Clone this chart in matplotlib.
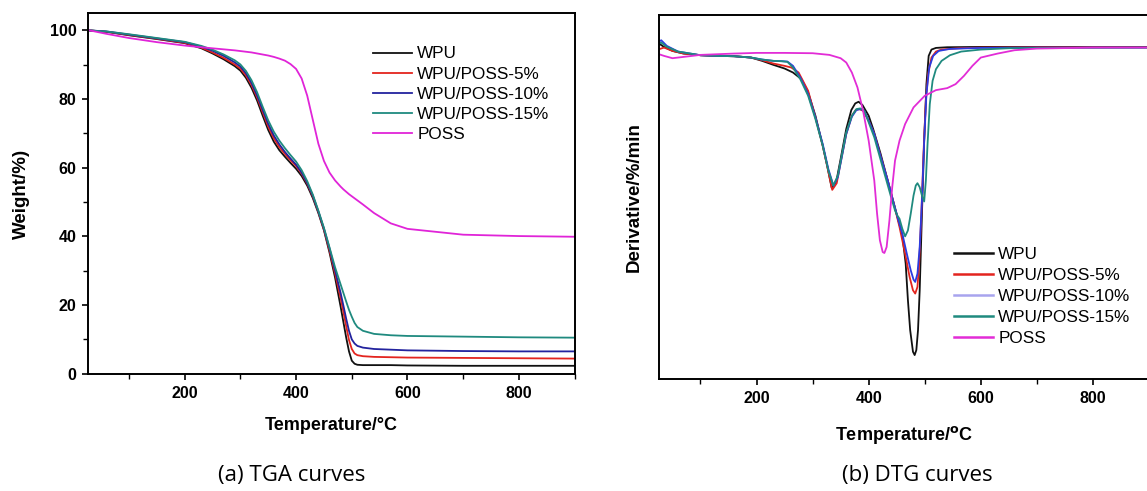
import matplotlib
matplotlib.use('Agg')
import matplotlib.pyplot as plt
from matplotlib.lines import Line2D
from matplotlib.ticker import MultipleLocator

plt.rcParams['font.family'] = ['Liberation Sans', 'DejaVu Sans']

series_names = ['WPU', 'WPU/POSS-5%', 'WPU/POSS-10%', 'WPU/POSS-15%', 'POSS']

# TGA: residual weight (%) vs temperature (°C)
tga_temp = [30, 60, 100, 150, 200, 230, 250, 270, 290, 300, 310, 320, 330, 340, 350,
            360, 370, 380, 390, 400, 410, 420, 430, 440, 450, 460, 470, 480, 485, 490,
            495, 500, 505, 510, 520, 540, 570, 600, 700, 800, 900]
tga_wpu = [100, 99.6, 98.6, 97.5, 96.3, 94.8, 93.3, 91.6, 89.6, 88.3, 86.2, 83.3, 79.6, 75.2, 71.0,
           67.6, 65.1, 63.2, 61.4, 59.7, 57.6, 54.8, 51.2, 46.8, 41.8, 35.3, 28.0, 19.5, 15.0, 10.5,
           6.5, 3.8, 2.9, 2.6, 2.5, 2.5, 2.5, 2.4, 2.3, 2.3, 2.3]
tga_poss5 = [100, 99.6, 98.7, 97.6, 96.4, 95.0, 93.6, 92.0, 90.1, 88.9, 86.9, 84.1, 80.5, 76.2, 72.0,
             68.6, 66.0, 64.0, 62.2, 60.5, 58.3, 55.4, 51.7, 47.1, 42.0, 35.9, 29.2, 22.0, 18.0, 13.8,
             9.8, 7.2, 5.9, 5.4, 5.1, 4.9, 4.8, 4.7, 4.6, 4.5, 4.4]
tga_poss10 = [100, 99.7, 98.8, 97.7, 96.6, 95.3, 94.1, 92.6, 90.7, 89.5, 87.5, 84.7, 81.1, 76.9, 72.8,
              69.4, 66.8, 64.6, 62.7, 60.9, 58.6, 55.6, 51.9, 47.3, 42.3, 36.5, 30.1, 23.5, 19.8, 16.0,
              12.5, 10.0, 8.8, 8.1, 7.6, 7.2, 7.0, 6.8, 6.6, 6.5, 6.5]
tga_poss15 = [100, 99.7, 98.9, 97.8, 96.7, 95.5, 94.4, 93.0, 91.3, 90.1, 88.2, 85.5, 82.0, 77.8, 73.8,
              70.5, 67.9, 65.7, 63.7, 61.8, 59.3, 56.1, 52.2, 47.5, 42.5, 36.8, 31.0, 26.0, 23.5, 21.0,
              18.6, 16.6, 14.8, 13.6, 12.5, 11.6, 11.2, 11.0, 10.8, 10.6, 10.5]
tga_poss = [100, 99.0, 97.8, 96.6, 95.6, 95.1, 94.8, 94.5, 94.2, 94.0, 93.8, 93.6, 93.3, 93.0, 92.7,
            92.3, 91.8, 91.2, 90.2, 88.8, 86.0, 81.0, 74.0, 67.0, 62.0, 58.6, 56.3, 54.5, 53.7, 53.0,
            52.3, 51.7, 51.1, 50.5, 49.3, 46.8, 43.8, 42.2, 40.5, 40.1, 39.9]

# DTG: derivative weight (%/min) vs temperature (°C)
dtg_wpu_t = [26, 35, 50, 70, 100, 130, 160, 190, 210, 230, 250, 265, 280, 292, 305, 318, 326, 334,
             342, 350, 360, 369, 376, 382, 389, 400, 408, 421, 434, 443, 453, 460, 466, 470, 474,
             479, 482, 485, 488, 491, 495, 499, 503, 507, 512, 520, 540, 600, 700, 800, 900]
dtg_wpu = [0.12, 0.02, -0.10, -0.18, -0.23, -0.25, -0.26, -0.30, -0.40, -0.52, -0.63, -0.75, -0.95,
           -1.35, -2.05, -2.95, -3.55, -4.22, -4.05, -3.35, -2.45, -1.88, -1.68, -1.63, -1.73, -2.05,
           -2.45, -3.18, -4.00, -4.58, -5.20, -5.65, -6.50, -7.60, -8.50, -9.15, -9.25, -9.10, -8.50,
           -7.30, -5.00, -2.80, -1.10, -0.25, -0.06, -0.01, 0.01, 0.02, 0.02, 0.02, 0.02]
dtg_poss5_t = [26, 35, 50, 70, 100, 130, 160, 190, 210, 230, 250, 262, 275, 292, 305, 318, 327, 335,
               343, 350, 360, 370, 377, 383, 390, 400, 410, 420, 434, 445, 455, 465, 473, 479, 483,
               487, 490, 494, 498, 502, 506, 512, 520, 530, 560, 600, 700, 900]
dtg_poss5 = [-0.05, 0.0, -0.10, -0.18, -0.23, -0.25, -0.26, -0.30, -0.38, -0.48, -0.55, -0.60, -0.75,
             -1.30, -2.10, -2.95, -3.65, -4.28, -4.08, -3.45, -2.60, -2.05, -1.88, -1.85, -1.90, -2.20,
             -2.60, -3.20, -4.00, -4.70, -5.40, -6.20, -6.90, -7.30, -7.40, -7.20, -6.50, -5.00, -3.10,
             -1.60, -0.80, -0.30, -0.12, -0.06, -0.02, 0.0, 0.01, 0.01]
dtg_poss10_t = [26, 30, 40, 60, 100, 130, 160, 190, 210, 230, 245, 255, 265, 278, 292, 305, 318, 328,
                337, 345, 352, 360, 370, 378, 385, 392, 400, 410, 420, 434, 445, 453, 460, 468, 475,
                480, 483, 487, 491, 495, 499, 503, 508, 515, 525, 545, 600, 700, 900]
dtg_poss10 = [0.18, 0.22, 0.05, -0.12, -0.23, -0.25, -0.26, -0.30, -0.36, -0.40, -0.41, -0.42, -0.55,
              -0.90, -1.40, -2.10, -2.90, -3.65, -4.15, -3.90, -3.30, -2.60, -2.08, -1.88, -1.85, -1.90,
              -2.20, -2.60, -3.20, -4.00, -4.70, -5.20, -5.60, -6.20, -6.70, -6.98, -7.05, -6.80, -6.00,
              -4.60, -2.80, -1.40, -0.60, -0.25, -0.10, -0.04, -0.01, 0.0, 0.0]
dtg_poss15_t = [26, 30, 40, 60, 100, 130, 160, 190, 210, 230, 245, 255, 265, 278, 292, 305, 318, 328,
                337, 345, 352, 360, 370, 378, 385, 392, 400, 410, 420, 430, 440, 447, 451, 455, 460,
                465, 470, 475, 480, 484, 487, 491, 495, 499, 502, 505, 509, 514, 520, 530, 545, 565,
                600, 650, 700, 900]
dtg_poss15 = [0.12, 0.15, 0.02, -0.12, -0.23, -0.25, -0.26, -0.30, -0.36, -0.40, -0.41, -0.43, -0.60,
              -0.95, -1.45, -2.15, -2.95, -3.70, -4.15, -3.85, -3.25, -2.55, -2.05, -1.85, -1.83, -1.90,
              -2.25, -2.70, -3.30, -3.90, -4.50, -4.90, -5.05, -5.15, -5.45, -5.68, -5.50, -5.00, -4.45,
              -4.15, -4.08, -4.20, -4.45, -4.63, -4.00, -2.90, -1.70, -1.00, -0.65, -0.40, -0.23, -0.12,
              -0.06, -0.02, -0.01, 0.0]
dtg_poss_t = [26, 35, 50, 70, 100, 130, 160, 200, 250, 300, 330, 350, 360, 370, 380, 390, 400, 405,
              410, 415, 420, 425, 428, 432, 437, 442, 447, 455, 465, 480, 500, 520, 540, 555, 570,
              585, 600, 630, 660, 700, 800, 900]
dtg_poss = [-0.20, -0.25, -0.32, -0.28, -0.22, -0.20, -0.18, -0.16, -0.16, -0.17, -0.22, -0.32, -0.45,
            -0.75, -1.20, -1.90, -2.80, -3.40, -4.00, -5.00, -5.80, -6.15, -6.18, -6.00, -5.20, -4.20,
            -3.40, -2.80, -2.30, -1.80, -1.45, -1.28, -1.22, -1.10, -0.85, -0.55, -0.30, -0.18, -0.08,
            -0.03, 0.0, 0.0]

tga_colors = ['#111111', '#e3241e', '#23239e', '#1f8a7f', '#e024d8']
dtg_colors = ['#111111', '#e3241e', '#2b3be0', '#1f8a7f', '#e22cd6']
dtg_legend_10 = '#a8a4ee'

fig = plt.figure(figsize=(11.47, 4.91), dpi=100)
W, H = 1147, 491


def px_axes(x0, y0, x1, y1):
    return fig.add_axes([x0 / W, 1 - y1 / H, (x1 - x0) / W, (y1 - y0) / H])


def style_ticks(ax):
    for s in ax.spines.values():
        s.set_linewidth(1.4)
    ax.tick_params(which='major', direction='out', length=4.5, width=1.2, labelsize=11.5, pad=4)
    ax.tick_params(which='minor', direction='out', length=3.5, width=1.0)
    for lab in ax.get_xticklabels() + ax.get_yticklabels():
        lab.set_fontweight('bold')


# (a) TGA
ax1 = px_axes(88.3, 13.3, 574.6, 373.7)
for vals, c, name in zip([tga_wpu, tga_poss5, tga_poss10, tga_poss15, tga_poss], tga_colors, series_names):
    ax1.plot(tga_temp, vals, color=c, lw=1.3, label=name)
ax1.set_xlim(27, 900)
ax1.set_ylim(0, 105)
ax1.set_xticks([200, 400, 600, 800])
ax1.xaxis.set_minor_locator(MultipleLocator(100))
ax1.set_yticks([0, 20, 40, 60, 80, 100])
ax1.yaxis.set_minor_locator(MultipleLocator(10))
style_ticks(ax1)
ax1.set_xlabel('Temperature/°C', fontsize=13, fontweight='bold', labelpad=12)
ax1.set_ylabel('Weight/%)', fontsize=13.5, fontweight='bold', labelpad=14)
ax1.legend(loc='upper left', bbox_to_anchor=(373 / W, 1 - 46.5 / H), bbox_transform=fig.transFigure,
           frameon=False, fontsize=12.3, handlelength=2.3, handletextpad=0.3, labelspacing=0.3,
           borderpad=0, borderaxespad=0)

# (b) DTG
ax2 = px_axes(659, 15, 1149, 379)
dtg_sets = [(dtg_wpu_t, dtg_wpu), (dtg_poss5_t, dtg_poss5), (dtg_poss10_t, dtg_poss10),
            (dtg_poss15_t, dtg_poss15), (dtg_poss_t, dtg_poss)]
handles = []
for (t, v), c, name in zip(dtg_sets, dtg_colors, series_names):
    ax2.plot(t, v, color=c, lw=1.3)
    hc = dtg_legend_10 if name == 'WPU/POSS-10%' else c
    handles.append(Line2D([], [], color=hc, lw=1.8, label=name))
ax2.set_xlim(26, 900)
ax2.set_ylim(-9.97, 0.98)
ax2.set_xticks([200, 400, 600, 800])
ax2.xaxis.set_minor_locator(MultipleLocator(100))
ax2.set_yticks([])
style_ticks(ax2)
ax2.set_xlabel('Temperature/$\\mathbf{^{o}}$C', fontsize=13, fontweight='bold', labelpad=13)
ax2.set_ylabel('Derivative/%/min', fontsize=13.5, fontweight='bold', labelpad=12)
ax2.legend(handles=handles, loc='upper left', bbox_to_anchor=(954 / W, 1 - 247 / H),
           bbox_transform=fig.transFigure, frameon=False, fontsize=12.3, handlelength=2.3,
           handletextpad=0.3, labelspacing=0.35, borderpad=0, borderaxespad=0)

fig.text(292 / W, 1 - 475 / H, '(a) TGA curves', ha='center', va='center',
         fontsize=16, family=['Open Sans', 'DejaVu Sans'])
fig.text(917 / W, 1 - 475 / H, '(b) DTG curves', ha='center', va='center',
         fontsize=16, family=['Open Sans', 'DejaVu Sans'])

fig.savefig('out.png', dpi=100)
